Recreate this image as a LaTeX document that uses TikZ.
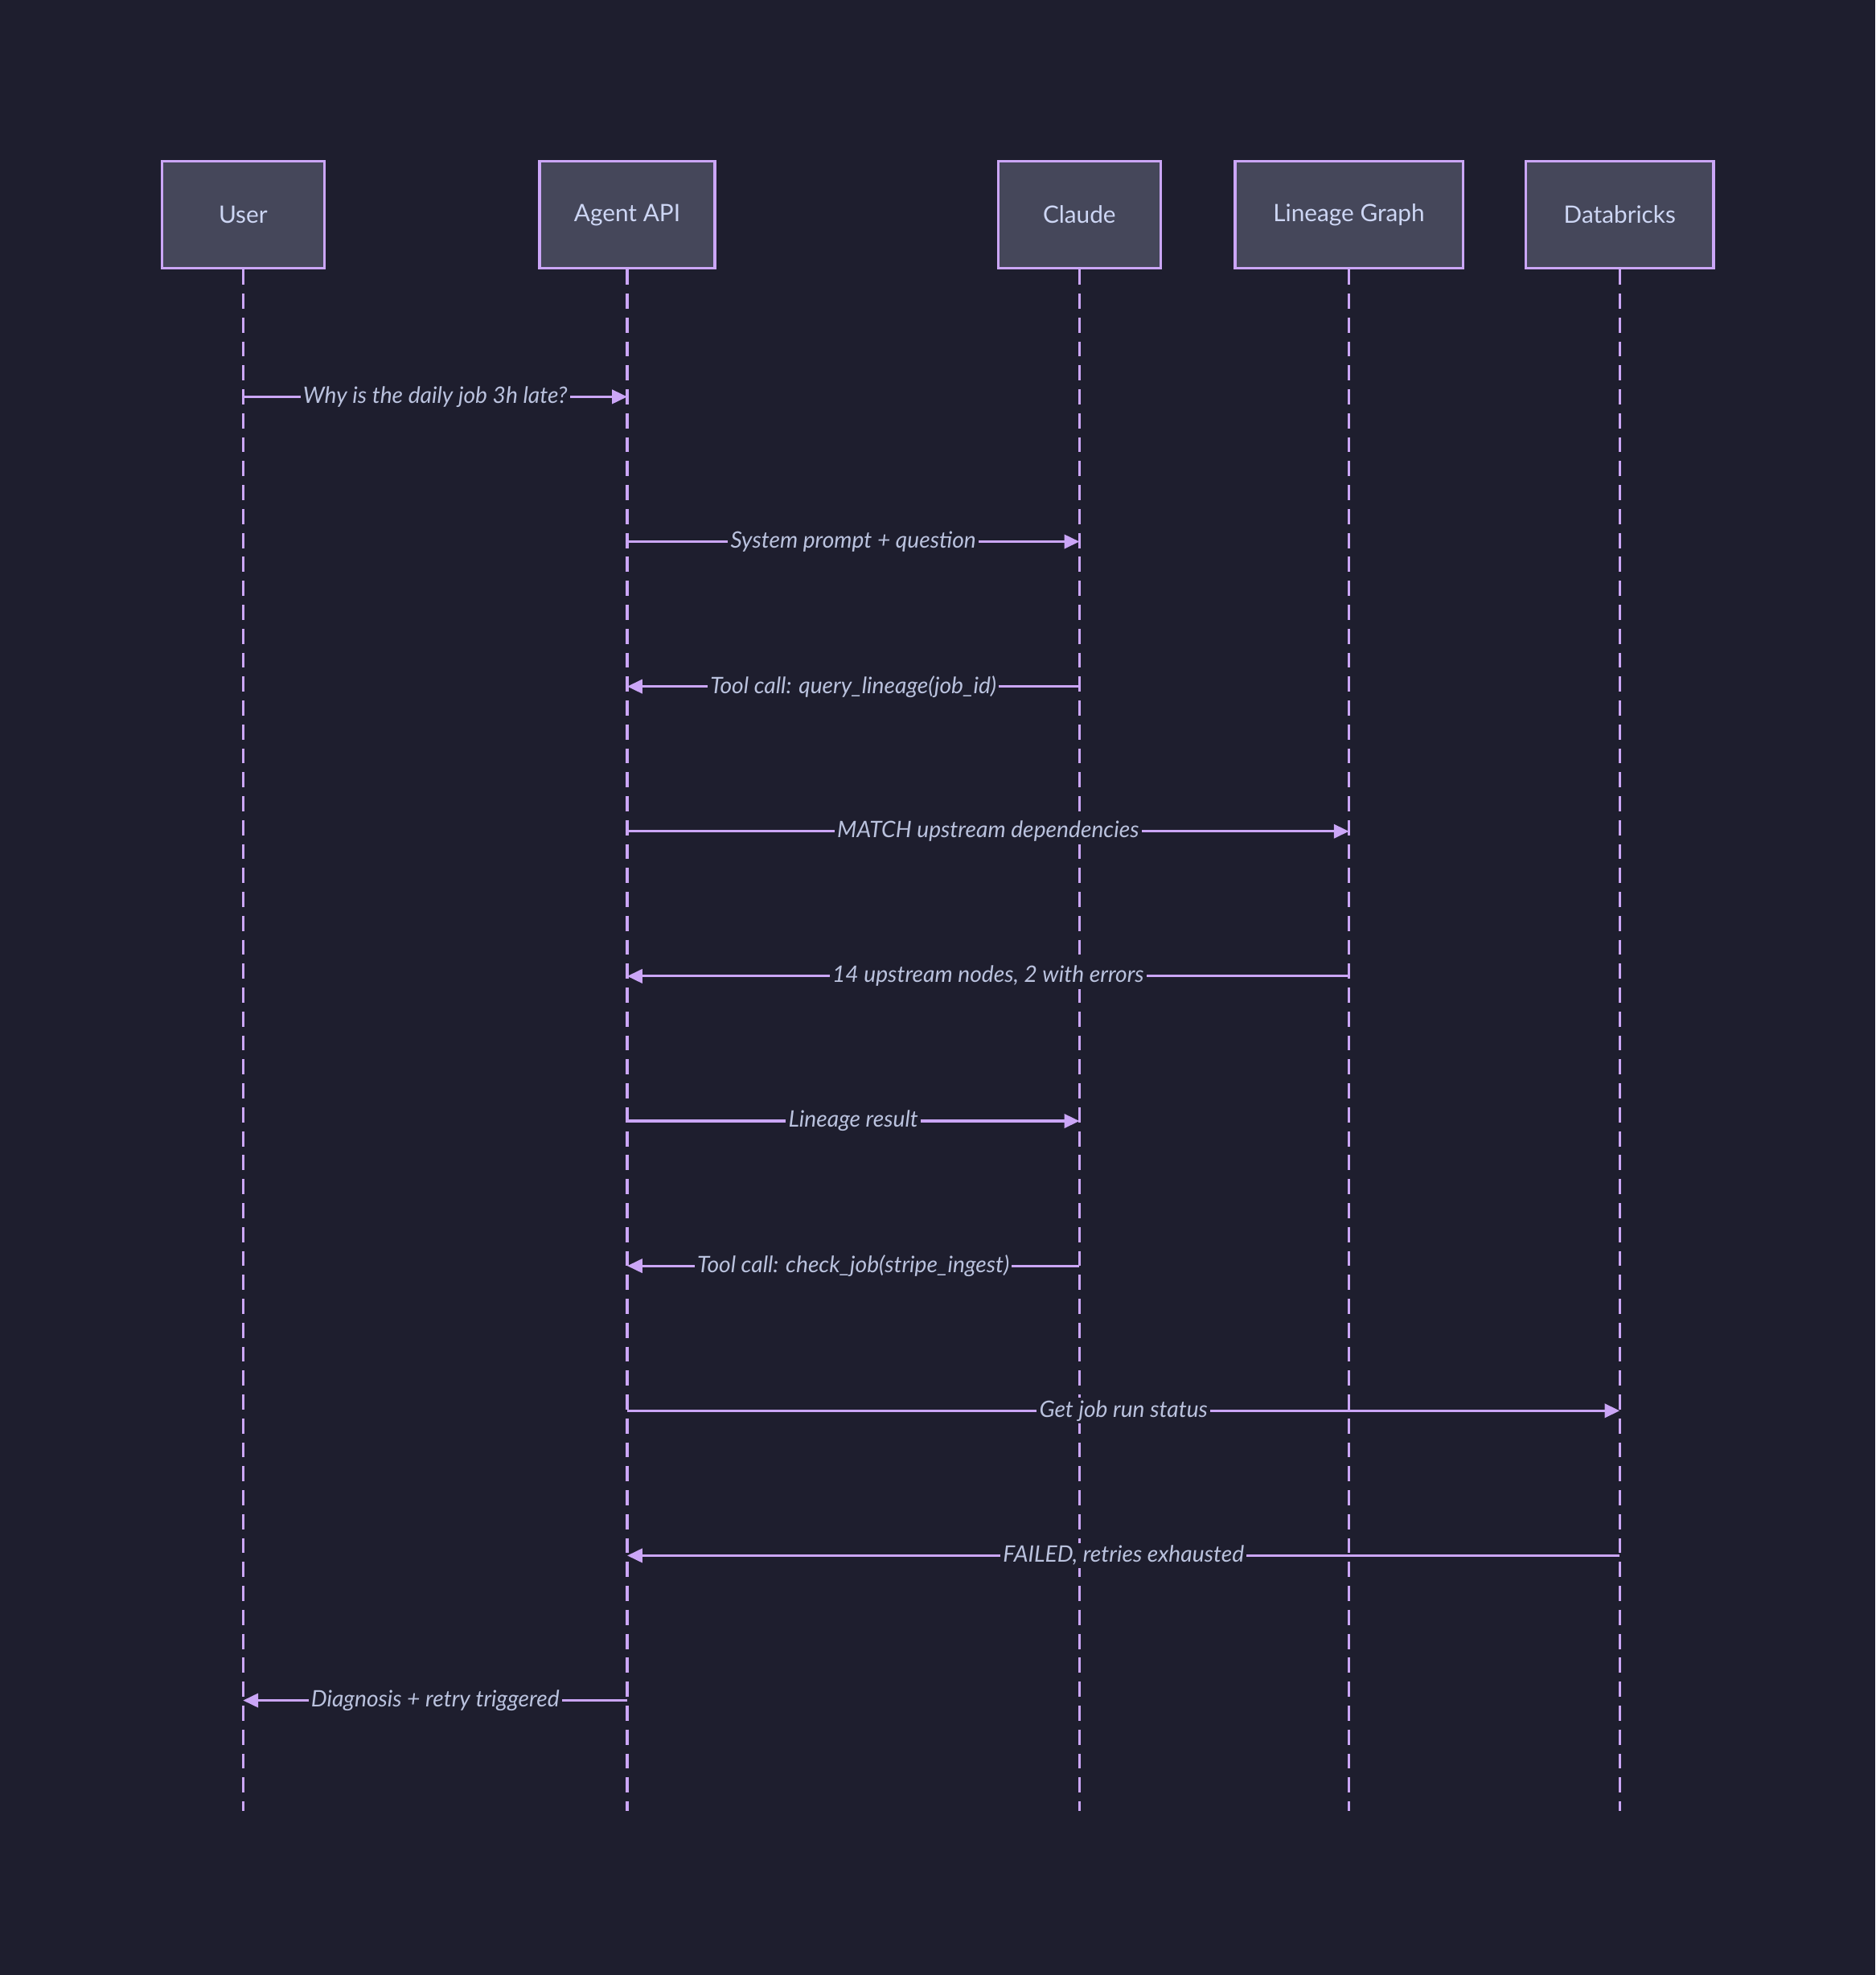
\documentclass[tikz,border=0pt]{standalone}
\usepackage{fontspec}
\setmainfont{Lato}
\usetikzlibrary{arrows.meta}
\definecolor{bg}{HTML}{1E1E2E}
\definecolor{boxf}{HTML}{45475A}
\definecolor{mauve}{HTML}{CBA6F7}
\definecolor{txt}{HTML}{CDD6F4}
\definecolor{ltxt}{HTML}{BAC2DE}
\begin{document}
\begin{tikzpicture}[x=1pt,y=-1pt,
 actor/.style={draw=mauve,line width=2.2pt,fill=boxf,minimum height=85pt,text=txt,font=\fontsize{19}{22}\selectfont,inner sep=0pt},
 life/.style={draw=mauve,line width=2pt,dash pattern=on 12pt off 7pt},
 msg/.style={draw=mauve,line width=2pt,-{Triangle[length=12pt,width=11pt]}},
 lab/.style={fill=bg,text=ltxt,font=\itshape\fontsize{18}{21}\selectfont,inner sep=2pt}]
\fill[bg] (0,0) rectangle (1489,1568);
\useasboundingbox (0,0) rectangle (1489,1568);
\node[actor,minimum width=129pt] (u) at (193,170.5) {User};
\node[actor,minimum width=139pt] (a) at (498,170.5) {Agent API};
\node[actor,minimum width=129pt] (c) at (857,170.5) {Claude};
\node[actor,minimum width=181pt] (l) at (1071,170.5) {Lineage Graph};
\node[actor,minimum width=149pt] (d) at (1286,170.5) {Databricks};
\foreach \n/\x in {u/193,a/498,c/857,l/1071,d/1286}{
 \coordinate (\n e) at (\x,1438);
 \draw[life] (\n.south) -- (\n e);
 \foreach \k/\y in {1/315,2/430,3/545,4/660,5/775,6/890,7/1005,8/1120,9/1235,10/1350}
  \coordinate (\n\k) at (\x,\y);
}
\draw[msg] (u1) -- node[lab]{Why is the daily job 3h late?} (a1);
\draw[msg] (a2) -- node[lab]{System prompt + question} (c2);
\draw[msg] (c3) -- node[lab]{Tool call: query\_lineage(job\_id)} (a3);
\draw[msg] (a4) -- node[lab]{MATCH upstream dependencies} (l4);
\draw[msg] (l5) -- node[lab]{14 upstream nodes, 2 with errors} (a5);
\draw[msg] (a6) -- node[lab]{Lineage result} (c6);
\draw[msg] (c7) -- node[lab]{Tool call: check\_job(stripe\_ingest)} (a7);
\draw[msg] (a8) -- node[lab]{Get job run status} (d8);
\draw[msg] (d9) -- node[lab]{FAILED, retries exhausted} (a9);
\draw[msg] (a10) -- node[lab]{Diagnosis + retry triggered} (u10);
\end{tikzpicture}
\end{document}
